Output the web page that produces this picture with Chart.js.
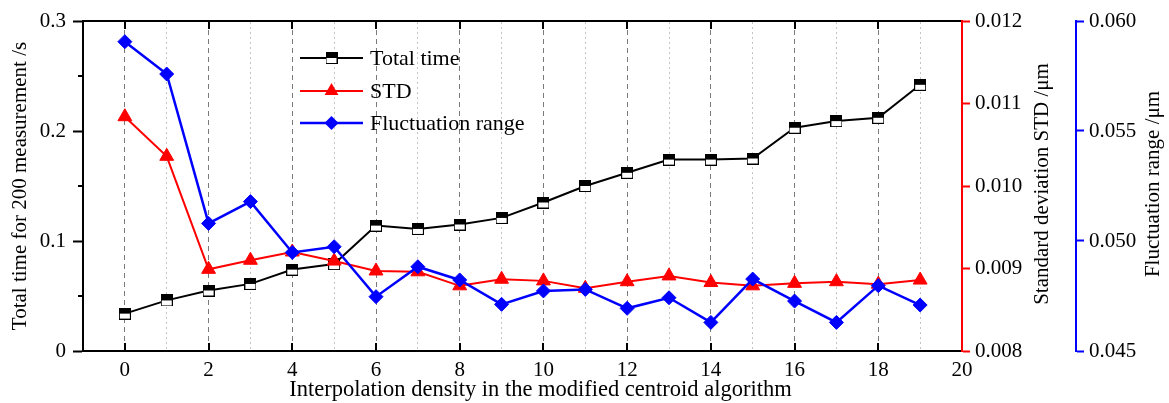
<!DOCTYPE html>
<html>
<head>
<meta charset="utf-8">
<script src="https://cdn.jsdelivr.net/npm/chart.js@4/dist/chart.umd.min.js"></script>
<style>
  html, body { margin: 0; padding: 0; background: #fff; }
  #wrap { width: 1169px; height: 403px; position: relative; }
</style>
</head>
<body>
<div id="wrap"><canvas id="c"></canvas></div>
<script>
// ---- data ----
const density = [0,1,2,3,4,5,6,7,8,9,10,11,12,13,14,15,16,17,18,19];
const totalTime = [0.034,0.046,0.055,0.061,0.074,0.079,0.114,0.111,0.115,0.121,0.135,0.150,0.162,0.174,0.174,0.175,0.203,0.209,0.212,0.242];
const stdValues = [0.01084,0.01036,0.00899,0.00910,0.00920,0.00909,0.00897,0.00896,0.00879,0.00887,0.00885,0.00876,0.00884,0.00891,0.00883,0.00879,0.00882,0.00884,0.00881,0.00886];
const fluctRange = [0.05906,0.05759,0.05080,0.05179,0.04948,0.04974,0.04747,0.04883,0.04823,0.04712,0.04773,0.04780,0.04694,0.04742,0.04630,0.04827,0.04727,0.04630,0.04797,0.04709];
const seriesNames = ['Total time', 'STD', 'Fluctuation range'];
const xTitle = 'Interpolation density in the modified centroid algorithm';
const yTitle = 'Total time for 200 measurement /s';
const y1Title = 'Standard deviation STD /\u03BCm';
const y2Title = 'Fluctuation range /\u03BCm';
const xMajorTicks = [0,2,4,6,8,10,12,14,16,18,20];
const xMinorTicks = [1,3,5,7,9,11,13,15,17,19];

const FONT = 'Liberation Serif';
Chart.defaults.font.family = FONT;
Chart.defaults.color = '#000';

// half-filled square marker
function halfSquare(size) {
  const c = document.createElement('canvas');
  c.width = size; c.height = size;
  const g = c.getContext('2d');
  g.fillStyle = '#fff'; g.fillRect(0, 0, size, size);
  g.fillStyle = '#000'; g.fillRect(0, 0, size, Math.floor(size / 2));
  g.strokeStyle = '#000'; g.lineWidth = 1;
  g.strokeRect(0.5, 0.5, size - 1, size - 1);
  return c;
}
const squareImg = halfSquare(12);

const pts = (ys) => density.map((x, i) => ({x: x, y: ys[i]}));

const decorPlugin = {
  id: 'decor',
  afterDraw(chart) {
    const {ctx, chartArea: ca, scales} = chart;
    const x = scales.x, y = scales.y;
    ctx.save();
    // inward ticks on bottom and top frame
    ctx.strokeStyle = '#000'; ctx.lineWidth = 2;
    x.ticks.forEach(t => {
      if (t.value >= x.max) return;
      const px = Math.round(x.getPixelForValue(t.value));
      ctx.beginPath();
      ctx.moveTo(px, ca.bottom); ctx.lineTo(px, ca.bottom - 8);
      ctx.moveTo(px, ca.top); ctx.lineTo(px, ca.top + 8);
      ctx.stroke();
    });
    // minor ticks on left axis
    for (let i = 0; i < y.ticks.length - 1; i++) {
      const v = (y.ticks[i].value + y.ticks[i + 1].value) / 2;
      const py = Math.round(y.getPixelForValue(v));
      ctx.beginPath(); ctx.moveTo(ca.left, py); ctx.lineTo(ca.left - 5, py); ctx.stroke();
    }
    ctx.fillStyle = '#000';
    // x axis title
    ctx.font = '22.5px ' + FONT;
    ctx.textAlign = 'center'; ctx.textBaseline = 'middle';
    ctx.fillText(xTitle, (ca.left + ca.right) / 2 + 18, x.bottom - 13);
    // right axis titles (reading bottom to top)
    ctx.font = '21px ' + FONT;
    const cy = (ca.top + ca.bottom) / 2 - 2;
    [[scales.y1, y1Title, 34], [scales.y2, y2Title, 16]].forEach(([s, txt, off]) => {
      ctx.save();
      ctx.translate(s.right - off, cy);
      ctx.rotate(-Math.PI / 2);
      ctx.fillText(txt, 0, 0);
      ctx.restore();
    });
    // legend
    const lx0 = ca.left + 217, lx1 = lx0 + 63, mx = (lx0 + lx1) / 2;
    ctx.font = '22px ' + FONT;
    ctx.textAlign = 'left'; ctx.textBaseline = 'middle';
    chart.data.datasets.forEach((ds, i) => {
      const ly = Math.round(ca.top + 37 + i * 32.5);
      ctx.strokeStyle = ds.borderColor; ctx.lineWidth = ds.borderWidth;
      ctx.beginPath(); ctx.moveTo(lx0, ly); ctx.lineTo(lx1, ly); ctx.stroke();
      const r = ds.pointRadius;
      ctx.fillStyle = ds.pointBackgroundColor;
      if (ds.pointStyle instanceof HTMLCanvasElement) {
        ctx.drawImage(ds.pointStyle, mx - ds.pointStyle.width / 2, ly - ds.pointStyle.height / 2);
      } else if (ds.pointStyle === 'triangle') {
        ctx.beginPath();
        ctx.moveTo(mx, ly - r);
        ctx.lineTo(mx + r * Math.cos(Math.PI / 6), ly + r / 2);
        ctx.lineTo(mx - r * Math.cos(Math.PI / 6), ly + r / 2);
        ctx.closePath(); ctx.fill();
      } else {
        ctx.beginPath();
        ctx.moveTo(mx, ly - r); ctx.lineTo(mx + r, ly); ctx.lineTo(mx, ly + r); ctx.lineTo(mx - r, ly);
        ctx.closePath(); ctx.fill();
      }
      ctx.fillStyle = '#000';
      ctx.fillText(ds.label, lx1 + 7, ly + 1);
    });
    ctx.restore();
  }
};

new Chart(document.getElementById('c'), {
  type: 'line',
  data: {
    datasets: [
      { label: seriesNames[0], data: pts(totalTime), yAxisID: 'y', xAxisID: 'x',
        borderColor: '#000', borderWidth: 2, pointStyle: squareImg, pointRadius: 6,
        pointBackgroundColor: '#000', order: 2 },
      { label: seriesNames[1], data: pts(stdValues), yAxisID: 'y1', xAxisID: 'x',
        borderColor: '#ff0000', borderWidth: 2, pointStyle: 'triangle', pointRadius: 8,
        pointBackgroundColor: '#ff0000', pointBorderColor: '#ff0000', pointBorderWidth: 1, order: 1 },
      { label: seriesNames[2], data: pts(fluctRange), yAxisID: 'y2', xAxisID: 'x',
        borderColor: '#0000ff', borderWidth: 2.5, pointStyle: 'rectRot', pointRadius: 7,
        pointBackgroundColor: '#0000ff', pointBorderColor: '#0000ff', pointBorderWidth: 1, order: 0 }
    ]
  },
  options: {
    responsive: true, maintainAspectRatio: false, animation: false, devicePixelRatio: 1,
    layout: { padding: { top: 21, left: 0, right: 0, bottom: 0 } },
    plugins: { legend: { display: false }, tooltip: { enabled: false } },
    scales: {
      x: {
        type: 'linear', position: 'bottom', min: -1, max: 20,
        afterBuildTicks: s => { s.ticks = xMajorTicks.map(v => ({value: v})); },
        afterFit: s => { s.height = 52; },
        ticks: { font: { size: 21 }, padding: 7, maxRotation: 0, autoSkip: false, color: '#000' },
        grid: { drawTicks: false, lineWidth: 1,
                color: c => (c.tick && c.tick.value >= 20) ? 'rgba(0,0,0,0)' : '#7a7a7a' },
        border: { display: true, color: '#000', width: 2, dash: [5, 4] },
        title: { display: false, text: xTitle }
      },
      xTop: {
        type: 'linear', position: 'top', min: -1, max: 20,
        afterBuildTicks: s => { s.ticks = xMinorTicks.map(v => ({value: v})); },
        afterFit: s => { s.height = 0; },
        ticks: { display: false },
        grid: { drawTicks: false, lineWidth: 1, color: '#c4c4c4' },
        border: { display: true, color: '#000', width: 2, dash: [2, 3] }
      },
      y: {
        type: 'linear', position: 'left', min: 0, max: 0.3,
        afterFit: s => { s.width = 83; },
        ticks: { stepSize: 0.1, font: { size: 21 }, padding: 7, color: '#000',
                 callback: v => String(Math.round(v * 10) / 10) },
        grid: { drawOnChartArea: false, drawTicks: true, tickLength: 10, tickWidth: 2, tickColor: '#000' },
        border: { display: true, color: '#000', width: 2 },
        title: { display: true, text: yTitle, font: { size: 21 }, padding: { top: 8, bottom: 0 }, color: '#000' }
      },
      y1: {
        type: 'linear', position: 'right', min: 0.008, max: 0.012, weight: 0,
        afterFit: s => { s.width = 114; },
        ticks: { stepSize: 0.001, font: { size: 21 }, padding: 5, color: '#000',
                 callback: v => v.toFixed(3) },
        grid: { drawOnChartArea: false, drawTicks: true, tickLength: 8, tickWidth: 2, tickColor: '#ff0000' },
        border: { display: true, color: '#ff0000', width: 2 }
      },
      y2: {
        type: 'linear', position: 'right', min: 0.045, max: 0.060, weight: 1,
        afterFit: s => { s.width = 93; },
        ticks: { stepSize: 0.005, font: { size: 21 }, padding: 5, color: '#000',
                 callback: v => v.toFixed(3) },
        grid: { drawOnChartArea: false, drawTicks: true, tickLength: 8, tickWidth: 2, tickColor: '#0000ff' },
        border: { display: true, color: '#0000ff', width: 2 }
      }
    }
  },
  plugins: [decorPlugin]
});
</script>
</body>
</html>
